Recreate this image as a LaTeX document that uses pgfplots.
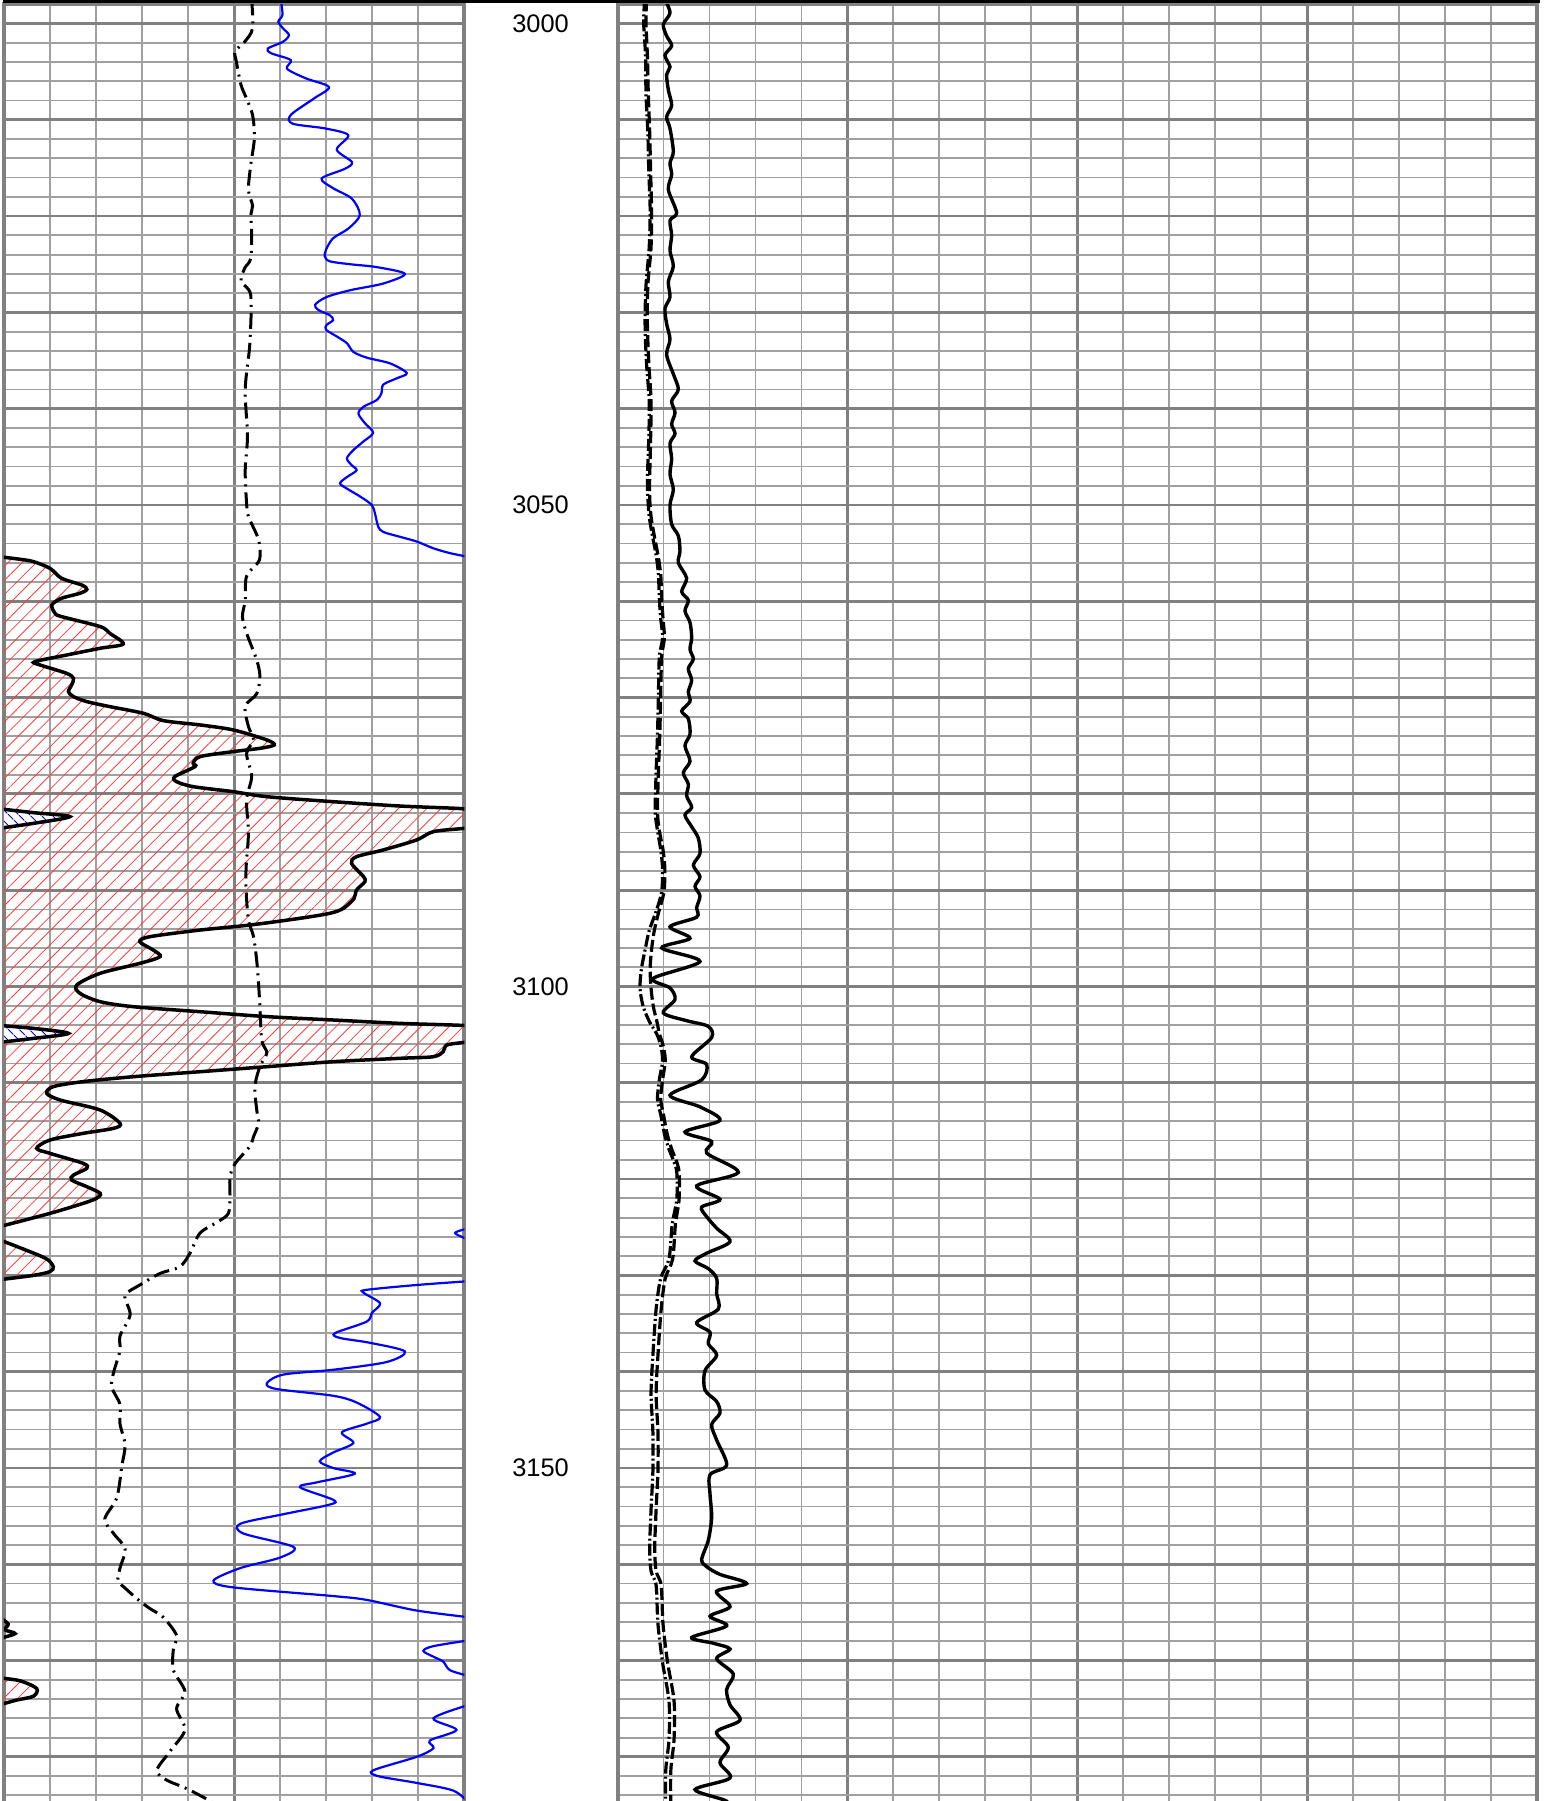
\documentclass[border=0pt]{standalone}
\usepackage{fontspec}
\setmainfont{Liberation Sans}
\usepackage{pgfplots}
\usepackage{pgfplotstable}
\pgfplotsset{compat=1.18}
\usetikzlibrary{patterns.meta}

\definecolor{gridmajor}{RGB}{128,128,128}
\definecolor{gridminor}{RGB}{160,160,160}
\definecolor{hatchred}{RGB}{255,60,60}

% ---------- left track: solid curve (GR), fill to left edge ----------
\pgfplotstableread{
v d
-1 3055.37
3.5 3055.64
6.4 3055.88
10.0 3056.58
12.5 3057.61
16.9 3058.31
18.0 3058.76
16.5 3059.17
12.5 3059.69
10.4 3060.38
11.1 3061.25
12.5 3061.59
20.9 3062.63
23.0 3063.33
25.9 3064.43
20.9 3064.88
13.6 3065.58
6.7 3066.27
7.8 3066.61
13.6 3067.48
15.1 3068.00
14.7 3068.69
14.0 3069.38
15.1 3069.90
18.0 3070.42
23.0 3070.94
30.3 3071.63
34.6 3072.39
42.6 3072.84
49.8 3073.36
57.1 3074.40
58.7 3074.92
55.6 3075.27
49.8 3075.61
42.6 3076.13
41.1 3076.82
41.5 3077.17
37.1 3078.21
37.5 3078.73
41.1 3079.25
49.8 3079.77
57.1 3080.29
71.5 3080.81
86.0 3081.26
100 3081.55
106.4 3081.95
114.3 3082.36
106.4 3083.06
100 3083.57
93.3 3083.92
89.6 3084.79
82.4 3085.82
76.6 3086.52
75.5 3087.21
78.1 3088.59
78.4 3089.12
76.6 3089.98
76.0 3090.90
73.7 3091.89
70.8 3092.40
64.3 3092.92
53.4 3093.62
42.6 3094.14
31.7 3094.83
29.5 3095.35
32.4 3096.21
33.9 3096.90
29.5 3097.60
20.9 3098.63
15.8 3099.85
16.5 3100.71
20.9 3101.58
28.1 3102.10
42.6 3102.62
57.1 3103.13
71.5 3103.48
86.0 3103.83
100 3104.05
106.4 3104.35
114.0 3104.87
106.4 3105.39
100 3105.80
96.2 3106.08
95.4 3106.77
93.3 3107.29
86.0 3107.46
71.5 3107.81
57.1 3108.33
42.6 3108.85
28.1 3109.37
17.2 3109.88
10.7 3110.40
9.3 3111.10
12.2 3111.79
20.9 3112.83
25.2 3114.21
23.8 3114.73
17.2 3115.25
10.0 3115.94
7.1 3116.81
10.0 3117.33
17.2 3118.37
18.0 3118.88
15.1 3119.58
14.7 3120.10
18.0 3120.79
20.9 3121.48
20.1 3122.00
17.2 3122.52
10.0 3123.56
-1 3124.94
}\grmain

\pgfplotstableread{
v d
-1 3126.3
4.9 3127.4
9.3 3128.3
10.7 3129.1
10.0 3129.6
6.4 3130.0
-1 3130.45
}\grlobeA

\pgfplotstableread{
v d
-1 3165.5
0.9 3166.2
0.2 3166.8
2.4 3167.2
-1 3167.7
}\grlobeB

\pgfplotstableread{
v d
-1 3171.8
3.5 3172.1
7.1 3172.9
6.4 3173.7
2.75 3174.1
-1 3174.6
}\grlobeC

% wrapped part of the two spikes (value minus 100)
\pgfplotstableread{
v d
-1 3081.55
6.4 3081.95
14.3 3082.36
6.4 3083.06
-1 3083.57
}\wrapA

\pgfplotstableread{
v d
-1 3104.05
6.4 3104.35
14.0 3104.87
6.4 3105.39
-1 3105.80
}\wrapB

% ---------- left track: blue backup curve ----------
\pgfplotstableread{
v d
60.1 2997.5
60.5 2999.1
59.6 2999.8
60.6 3000.5
61.9 3001.2
60.6 3001.9
57.3 3002.6
58.1 3003.1
62.3 3003.8
61.5 3004.7
65.6 3005.7
70.6 3006.6
67.3 3007.8
62.3 3009.5
62.7 3010.4
69.8 3010.9
74.8 3011.6
72.3 3013.1
75.6 3014.4
74.0 3015.1
69.0 3016.1
71.5 3017.1
75.6 3018.2
77.3 3019.9
74.8 3021.3
71.5 3022.3
69.95 3023.5
69.7 3024.2
70.8 3024.7
75.2 3025.0
81.0 3025.3
87.1 3026.0
82.4 3027.0
75.2 3027.7
70.1 3028.4
67.6 3029.2
68.3 3029.75
70.8 3030.3
71.5 3030.8
70.1 3031.3
69.95 3031.8
72.3 3032.5
74.5 3033.2
75.9 3034.1
78.8 3034.7
83.9 3035.3
87.5 3036.3
85.3 3036.85
82.4 3037.5
82.0 3038.4
81.0 3039.1
78.1 3039.8
77.0 3040.5
78.4 3041.5
80.2 3042.5
78.1 3043.4
75.9 3044.3
74.5 3045.15
75.5 3045.85
76.6 3046.4
74.5 3047.1
73.0 3047.75
74.5 3048.3
77.3 3049.1
79.9 3050.0
80.6 3050.9
81.3 3052.25
82.4 3052.8
86.0 3053.3
89.7 3053.8
93.3 3054.5
96.9 3055.0
101 3055.4
}\bluea

\pgfplotstableread{
v d
101 3125.1
98.0 3125.6
101 3126.3
}\blueb

\pgfplotstableread{
v d
101 3130.6
89.6 3131.0
78.8 3131.5
78.1 3131.8
81.7 3132.9
79.9 3133.9
78.8 3134.8
71.9 3136.0
73.0 3136.5
79.5 3137.0
87.1 3137.9
83.1 3139.0
71.5 3139.8
60.7 3140.3
57.1 3141.2
59.2 3141.8
71.5 3142.5
76.6 3143.2
81.7 3144.7
78.8 3145.4
73.4 3146.3
75.9 3147.4
71.5 3148.4
68.6 3149.3
71.5 3150.0
76.2 3150.6
67.9 3151.5
64.3 3152.0
71.5 3153.3
70.8 3153.8
60.7 3154.8
51.3 3155.8
52.0 3156.8
62.9 3158.2
60.0 3159.3
51.3 3160.4
45.5 3161.7
49.8 3162.4
71.5 3163.3
78.8 3163.7
89.6 3164.8
101 3165.5
}\bluec

\pgfplotstableread{
v d
101 3167.9
93.3 3168.5
91.1 3169.0
93.3 3169.6
95.4 3170.1
96.9 3171.0
101 3171.6
}\blued

\pgfplotstableread{
v d
101 3174.6
93.3 3176.0
98.3 3177.2
92.5 3178.3
93.3 3179.1
89.6 3180.0
80.2 3181.4
81.3 3182.0
89.6 3182.7
97.6 3183.5
101 3184.8
}\bluee

% ---------- left track: dash-dot curve ----------
\pgfplotstableread{
v d
53.8 2997.5
54.0 3000.5
52.3 3001.9
50.2 3002.9
50.5 3004.0
51.5 3006.4
52.7 3007.8
54.0 3009.5
54.4 3011.9
53.6 3014.7
53.1 3017.3
54.0 3018.9
53.6 3019.9
53.8 3021.6
53.6 3024.4
52.3 3025.4
51.5 3026.8
53.6 3028.2
53.4 3033.3
52.4 3038.0
52.9 3042.8
52.4 3046.4
52.7 3049.8
53.1 3051.2
55.3 3053.6
55.5 3055.7
52.7 3057.4
52.4 3059.9
51.8 3061.6
52.7 3063.3
54.9 3066.1
55.6 3067.8
54.9 3069.6
52.4 3070.9
53.1 3073.0
54.2 3074.4
52.7 3075.8
53.8 3078.2
52.7 3080.6
53.1 3084.1
52.6 3087.6
52.6 3090.0
53.1 3093.1
54.2 3094.8
54.9 3097.3
55.3 3099.7
55.6 3102.1
56.0 3105.6
57.1 3106.9
55.6 3108.3
54.5 3110.4
54.9 3112.8
55.3 3114.2
54.2 3115.6
53.4 3116.6
50.2 3118.4
49.1 3119.8
49.1 3122.2
48.7 3123.6
46.6 3124.4
42.6 3125.6
40.4 3127.7
38.2 3129.1
33.9 3129.8
29.5 3131.0
26.3 3132.1
27.4 3134.1
25.2 3136.3
25.2 3137.8
23.8 3140.1
23.4 3141.6
25.2 3143.4
25.2 3145.4
26.3 3147.6
25.6 3149.8
24.5 3153.1
21.9 3155.3
23.8 3156.8
26.3 3158.4
25.2 3160.4
24.8 3161.7
26.6 3162.6
29.2 3163.7
31.7 3164.6
34.6 3165.5
37.5 3167.4
36.8 3168.8
36.8 3171.0
39.3 3173.2
37.5 3175.0
39.3 3177.2
36.1 3179.4
33.2 3181.4
35.3 3182.4
39.7 3183.3
44.8 3184.6
46.5 3185.4
}\ddleft

% ---------- right track: solid curve ----------
\pgfplotstableread{
v d
10.33 2997.5
11.42 2998.9
9.97 3000.1
10.69 3001.3
11.78 3002.3
10.33 3003.3
11.42 3004.5
10.69 3005.3
11.06 3006.9
11.78 3008.5
10.69 3009.7
11.42 3010.9
12.14 3013.3
11.42 3014.5
11.78 3015.7
11.06 3017.25
12.87 3019.65
11.42 3020.45
11.78 3022.0
11.42 3023.6
12.14 3025.2
11.06 3026.8
11.42 3028.4
10.33 3029.6
10.69 3031.2
11.42 3032.8
10.69 3034.4
12.14 3036.4
13.23 3038.0
11.78 3039.2
12.51 3040.4
11.78 3041.6
12.51 3042.6
11.42 3043.6
11.78 3045.2
11.42 3046.8
12.14 3048.4
11.42 3050.0
11.78 3052.0
13.23 3053.2
13.59 3054.8
13.23 3056.0
15.04 3057.6
13.96 3059.0
15.41 3059.9
14.68 3061.0
15.77 3062.2
16.13 3063.8
15.77 3065.0
16.5 3066.0
15.41 3067.0
16.13 3068.2
15.41 3069.4
15.77 3070.4
13.96 3071.4
15.41 3072.2
15.77 3073.8
14.68 3075.0
15.77 3076.6
14.32 3077.8
15.41 3079.0
15.04 3080.2
16.13 3081.4
14.68 3082.2
16.13 3083.4
17.58 3084.6
17.94 3086.2
16.5 3087.4
17.94 3088.6
16.86 3089.6
17.94 3090.6
17.22 3091.8
17.22 3092.8
11.42 3093.8
15.77 3095.0
9.61 3096.0
17.94 3097.4
7.79 3099.15
11.42 3100.15
12.51 3101.35
9.97 3102.75
15.04 3103.55
19.76 3104.15
20.48 3105.3
16.13 3107.3
19.39 3108.1
18.31 3109.7
11.42 3111.3
17.94 3112.5
22.29 3113.9
14.68 3115.1
20.48 3116.1
19.39 3117.3
26.28 3119.3
17.22 3120.7
22.29 3122.1
18.31 3122.9
19.39 3123.9
21.57 3125.1
24.47 3126.5
19.39 3127.7
16.86 3128.5
19.76 3129.3
21.57 3130.3
21.57 3131.9
21.93 3133.5
17.22 3134.9
20.12 3135.9
19.76 3137.1
21.57 3138.3
19.03 3139.9
19.03 3141.9
21.57 3143.1
22.29 3144.3
20.48 3145.5
21.57 3147.1
23.74 3149.7
20.12 3150.7
20.12 3152.7
20.48 3155.1
19.76 3157.5
18.31 3159.5
19.39 3160.25
22.29 3161.05
28.09 3162.0
21.57 3162.8
24.47 3164.4
20.12 3165.4
23.74 3166.4
16.13 3167.6
20.84 3168.2
24.47 3168.8
21.57 3169.8
25.19 3171.4
23.74 3173.0
24.47 3174.6
26.64 3176.2
21.57 3177.4
24.1 3179.0
22.29 3180.6
24.47 3182.2
16.86 3183.4
23.74 3184.6
22.0 3185.4
}\rsolid

% ---------- right track: dashed and dash-dot curves ----------
\pgfplotstableread{
v d
6.3 2997.5
6.2 3000.0
6.5 3003.3
6.7 3007.3
7.0 3011.3
7.2 3015.3
7.4 3019.3
7.3 3023.2
6.6 3027.2
6.5 3031.2
6.8 3035.2
7.3 3039.2
7.2 3043.2
7.0 3047.2
7.0 3049.2
7.3 3051.2
8.0 3053.2
8.8 3055.2
9.4 3057.2
9.6 3059.7
9.9 3061.8
10.2 3063.8
9.6 3065.8
9.4 3069.8
9.2 3073.8
8.9 3077.8
8.7 3081.8
9.1 3083.8
9.9 3085.8
10.3 3087.8
10.1 3090.2
9.0 3092.2
8.0 3094.2
7.4 3096.2
7.1 3098.2
7.3 3100.2
7.8 3102.1
8.6 3103.7
9.1 3104.9
9.9 3106.1
10.4 3107.7
9.8 3109.7
9.4 3111.7
10.0 3113.3
10.8 3115.3
11.8 3116.9
12.8 3118.1
13.4 3119.3
13.4 3122.1
12.6 3124.7
12.0 3128.3
10.4 3130.3
9.5 3133.5
8.8 3138.3
8.4 3142.3
8.8 3146.3
8.8 3150.3
8.4 3154.3
8.1 3158.3
8.4 3160.7
9.5 3162.2
9.9 3166.2
10.9 3170.2
12.3 3174.2
12.3 3178.2
11.6 3181.4
11.6 3185.5
}\rdashed

\pgfplotstableread{
v d
5.9 2997.5
5.7 3000.0
6.1 3003.3
6.2 3007.3
6.6 3011.3
6.8 3015.3
7.1 3019.3
6.9 3023.2
6.2 3027.2
6.0 3031.2
6.3 3035.2
6.9 3039.2
6.8 3043.2
6.5 3047.2
6.6 3049.2
6.9 3051.2
7.6 3053.2
8.4 3055.2
8.9 3057.2
9.1 3059.7
9.4 3061.8
9.8 3063.8
9.1 3065.8
8.9 3069.8
8.7 3073.8
8.4 3077.8
8.2 3081.8
8.7 3083.8
9.4 3085.8
9.8 3087.8
9.6 3090.2
8.4 3092.2
6.9 3094.2
6.0 3096.2
5.2 3098.2
4.9 3100.2
5.6 3102.1
7.0 3103.7
8.5 3104.9
9.4 3106.1
9.8 3107.7
9.1 3109.7
8.7 3111.7
9.4 3113.3
10.2 3115.3
11.2 3116.9
12.2 3118.1
12.9 3119.3
12.9 3122.1
11.9 3124.7
11.2 3128.3
9.4 3130.3
8.4 3133.5
7.7 3138.3
7.3 3142.3
7.7 3146.3
7.7 3150.3
7.3 3154.3
7.0 3158.3
7.3 3160.7
8.4 3162.2
8.8 3166.2
9.8 3170.2
11.2 3174.2
11.2 3178.2
10.5 3181.4
10.5 3185.5
}\rdashdot

\pgfplotsset{
  track/.style={
    scale only axis, anchor=north west,
    height=902.8pt,
    y dir=reverse, ymin=2998, ymax=3185.5,
    axis line style={draw=gridmajor, line width=2pt},
    xticklabels={}, yticklabels={},
    major tick length=0pt, minor tick length=0pt,
    grid=both,
    major grid style={draw=gridmajor, line width=1.4pt},
    minor grid style={draw=gridminor, line width=0.9pt},
    ytick={3000,3010,...,3180},
    minor ytick={2998,3000,...,3186},
  },
  curve/.style={smooth, tension=0.5},
  redhatch/.style={draw=none, pattern={Lines[angle=45,distance=5pt,line width=0.4pt]}, pattern color=hatchred},
  bluehatch/.style={draw=none, pattern={Lines[angle=-45,distance=4pt,line width=0.5pt]}, pattern color=blue},
}

\begin{document}
\begin{tikzpicture}
\useasboundingbox (0pt,0pt) rectangle (775.5pt,-900.5pt);

% left track
\begin{axis}[track, at={(2pt,-2.1pt)}, width=230.15pt, xmin=0, xmax=100,
  xtick={50}, minor xtick={10,20,30,40,60,70,80,90}]
  \addplot[curve, redhatch] table[x=v,y=d] {\grmain};
  \addplot[curve, redhatch] table[x=v,y=d] {\grlobeA};
  \addplot[curve, redhatch] table[x=v,y=d] {\grlobeB};
  \addplot[curve, redhatch] table[x=v,y=d] {\grlobeC};
  \addplot[curve, draw=none, fill=white] table[x=v,y=d] {\wrapA};
  \addplot[curve, draw=none, fill=white] table[x=v,y=d] {\wrapB};
  \addplot[curve, bluehatch] table[x=v,y=d] {\wrapA};
  \addplot[curve, bluehatch] table[x=v,y=d] {\wrapB};

  \addplot[curve, blue, line width=1.1pt] table[x=v,y=d] {\bluea};
  \addplot[curve, blue, line width=1.1pt] table[x=v,y=d] {\blueb};
  \addplot[curve, blue, line width=1.1pt] table[x=v,y=d] {\bluec};
  \addplot[curve, blue, line width=1.1pt] table[x=v,y=d] {\blued};
  \addplot[curve, blue, line width=1.1pt] table[x=v,y=d] {\bluee};

  \addplot[curve, black, line width=1.5pt, dash pattern=on 8pt off 3pt on 1pt off 3pt] table[x=v,y=d] {\ddleft};

  \addplot[curve, black, line width=1.75pt] table[x=v,y=d] {\grmain};
  \addplot[curve, black, line width=1.75pt] table[x=v,y=d] {\grlobeA};
  \addplot[curve, black, line width=1.75pt] table[x=v,y=d] {\grlobeB};
  \addplot[curve, black, line width=1.75pt] table[x=v,y=d] {\grlobeC};
  \addplot[curve, black, line width=1.75pt] table[x=v,y=d] {\wrapA};
  \addplot[curve, black, line width=1.75pt] table[x=v,y=d] {\wrapB};
\end{axis}

% right track
\begin{axis}[track, at={(308.75pt,-2.1pt)}, width=459.75pt, xmin=0, xmax=200,
  xtick={50,100,150}, minor xtick={10,20,...,190}]
  \addplot[curve, black, line width=1.6pt, dash pattern=on 6pt off 2pt] table[x=v,y=d] {\rdashed};
  \addplot[curve, black, line width=1.6pt, dash pattern=on 6pt off 1.5pt on 1pt off 1.5pt] table[x=v,y=d] {\rdashdot};
  \addplot[curve, black, line width=1.7pt] table[x=v,y=d] {\rsolid};
\end{axis}

% bottom edge of the header box
\draw[line width=1.5pt] (2pt,20pt) -- (2pt,-0.75pt) -- (769pt,-0.75pt) -- (769pt,20pt);

% depth labels
\foreach \dep/\yy in {3000/-11.75,3050/-252.5,3100/-493.25,3150/-734}
  \node[font=\fontsize{12.7pt}{15pt}\selectfont, inner sep=0pt] at (270.3pt,\yy pt) {\dep};
\end{tikzpicture}
\end{document}
